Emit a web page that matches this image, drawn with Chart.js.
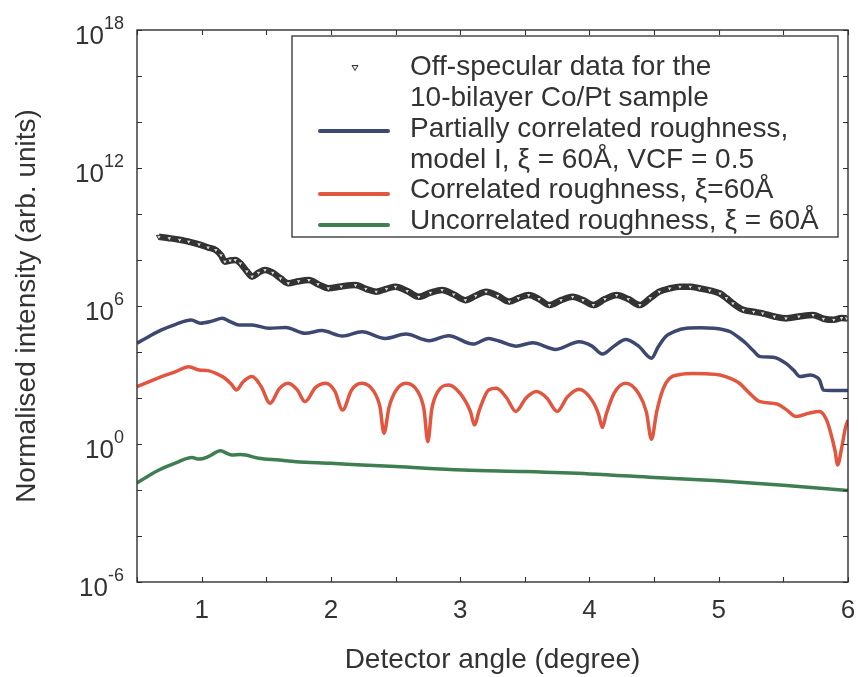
<!DOCTYPE html>
<html>
<head>
<meta charset="utf-8">
<script src="https://cdn.jsdelivr.net/npm/chart.js@4/dist/chart.umd.min.js"></script>
<style>
  html, body { margin: 0; padding: 0; background: #ffffff; }
  #wrap { width: 858px; height: 677px; }
</style>
</head>
<body>
<div id="wrap"><canvas id="c" width="858" height="677"></canvas></div>
<script>
// ---------------- DATA ----------------
const seriesLabels = [
  'Off-specular data for the\n10-bilayer Co/Pt sample',
  'Partially correlated roughness,\nmodel I, \u03BE = 60\u00C5, VCF = 0.5',
  'Correlated roughness, \u03BE=60\u00C5',
  'Uncorrelated roughness, \u03BE = 60\u00C5'
];

// Off-specular data (measured)
const offSpecX = [0.67,0.75,0.83,0.90,0.98,1.05,1.11,1.15,1.18,1.22,1.26,1.30,1.35,1.39,1.44,1.49,1.55,1.61,1.67,1.75,
  1.83,1.90,1.98,2.08,2.19,2.27,2.35,2.43,2.50,2.59,2.68,2.77,2.86,2.95,3.04,3.12,3.20,3.29,3.38,3.45,
  3.53,3.61,3.69,3.78,3.87,3.95,4.03,4.12,4.21,4.30,4.39,4.47,4.54,4.62,4.70,4.78,4.85,4.93,5.01,5.06,
  5.11,5.19,5.27,5.34,5.43,5.52,5.62,5.73,5.81,5.89,5.95,5.99];
const offSpecY = [1.02e9,8.9e8,7.6e8,6.3e8,4.8e8,3.5e8,2.7e8,1.6e8,8.5e7,9.5e7,1.0e8,7.1e7,3.2e7,1.9e7,2.8e7,3.7e7,2.8e7,1.6e7,9.8e6,1.2e7,
  1.35e7,8.9e6,5.9e6,7.1e6,8.1e6,5.6e6,4.2e6,5.6e6,6.9e6,4.5e6,2.5e6,3.8e6,5.0e6,3.2e6,1.8e6,2.8e6,4.2e6,2.8e6,1.55e6,2.2e6,
  3.0e6,2.0e6,1.1e6,1.8e6,2.5e6,1.8e6,1.1e6,2.0e6,3.0e6,2.0e6,1.1e6,2.2e6,4.2e6,5.8e6,6.9e6,6.9e6,5.9e6,4.8e6,3.5e6,2.2e6,
  1.3e6,6.8e5,5.6e5,4.8e5,3.5e5,2.9e5,3.5e5,4.1e5,2.8e5,2.5e5,3.0e5,2.9e5];

// Partially correlated roughness, model I
const partialX = [0.50,0.60,0.69,0.80,0.92,0.99,1.08,1.16,1.22,1.29,1.39,1.52,1.65,1.80,1.93,2.09,2.24,2.42,2.58,2.76,
  2.91,3.10,3.22,3.30,3.43,3.56,3.74,3.92,4.02,4.10,4.19,4.28,4.38,4.48,4.53,4.59,4.66,4.75,4.86,4.96,
  5.03,5.09,5.15,5.21,5.27,5.32,5.42,5.52,5.58,5.63,5.71,5.76,5.78,5.81,5.90,6.00];
const partialY = [2.4e4,5.0e4,9.1e4,1.6e5,2.45e5,1.8e5,2.2e5,2.9e5,2.1e5,1.5e5,1.5e5,1.07e5,1.17e5,6.5e4,8.5e4,5.0e4,7.6e4,3.9e4,6.0e4,3.1e4,
  5.1e4,2.2e4,3.9e4,3.0e4,1.8e4,2.5e4,1.3e4,2.8e4,1.8e4,8.1e3,1.8e4,3.5e4,1.8e4,5.4e3,1.6e4,4.7e4,7.9e4,1.07e5,1.12e5,1.07e5,
  9.5e4,7.6e4,4.5e4,2.4e4,1.1e4,6.3e3,5.9e3,3.2e3,1.6e3,8.5e2,1.0e3,7.9e2,6.0e2,2.2e2,2.1e2,2.1e2];

// Correlated roughness
const corrX = [0.50,0.60,0.69,0.80,0.90,0.98,1.05,1.12,1.18,1.23,1.27,1.32,1.39,1.46,1.53,1.60,1.67,1.74,1.80,1.88,
  1.96,2.03,2.09,2.16,2.24,2.33,2.38,2.41,2.45,2.50,2.58,2.67,2.72,2.75,2.78,2.83,2.91,3.00,3.08,3.11,
  3.15,3.22,3.28,3.36,3.43,3.51,3.59,3.67,3.75,3.83,3.92,4.02,4.07,4.10,4.13,4.19,4.28,4.38,4.44,4.48,
  4.52,4.57,4.62,4.70,4.80,4.90,5.01,5.09,5.16,5.24,5.32,5.45,5.52,5.60,5.70,5.78,5.83,5.86,5.90,5.92,
  5.95,5.98,6.00];
const corrY = [310,525,850,1.4e3,2.3e3,1.66e3,1.55e3,1.12e3,720,400,224,500,850,316,59,251,437,224,69,282,
  437,200,30,224,437,200,40,2.95,40,200,437,200,32,1.26,32,200,372,158,25,6.8,
  32,224,263,100,26,100,190,100,26,112,240,79,20,5.2,20,158,437,158,25,1.6,
  25,251,720,1.05e3,1.17e3,1.12e3,1.0e3,708,437,158,69,55,32,15.5,22,26,12.6,4.1,0.5,0.123,
  0.63,5.0,11];

// Uncorrelated roughness
const uncorrX = [0.50,0.60,0.67,0.80,0.925,0.98,1.05,1.145,1.20,1.235,1.30,1.34,1.44,1.60,1.73,2.00,2.24,2.50,3.02,3.50,
  4.00,4.50,5.00,5.50,6.00];
const uncorrY = [0.020,0.045,0.074,0.15,0.26,0.22,0.28,0.51,0.38,0.33,0.35,0.33,0.24,0.20,0.17,0.145,0.123,0.105,0.074,0.063,
  0.050,0.035,0.025,0.016,0.0095];

// Axis ticks
const xTickLabels = [1, 2, 3, 4, 5, 6];
const xMinorTicks = [0.5, 1, 1.5, 2, 2.5, 3, 3.5, 4, 4.5, 5, 5.5, 6];
const yTickExponents = [-6, 0, 6, 12, 18];
const yMinorTicks = [1e-6, 1e-4, 1e-2, 1e0, 1e2, 1e4, 1e6, 1e8, 1e10, 1e12, 1e14, 1e16, 1e18];
const xTitle = 'Detector angle (degree)';
const yTitle = 'Normalised intensity (arb. units)';

// ---------------- STYLE ----------------
const colors = ['#333333', '#3d4870', '#e2553f', '#3f7d52'];
const FONT = '"Liberation Sans", Arial, Helvetica, sans-serif';
const TEXT = '#333333';

const pts = (xs, ys) => xs.map((x, i) => ({ x: x, y: ys[i] }));

const decorPlugin = {
  id: 'decor',
  afterDraw(chart) {
    const ctx = chart.ctx;
    const a = chart.chartArea;
    const xs = chart.scales.x, ys = chart.scales.y;
    ctx.save();
    // frame
    ctx.strokeStyle = '#303030';
    ctx.lineWidth = 1.4;
    ctx.strokeRect(a.left, a.top, a.right - a.left, a.bottom - a.top);
    // inward ticks
    ctx.lineWidth = 1.1;
    const TL = 5;
    ctx.beginPath();
    xMinorTicks.forEach(v => {
      const px = Math.round(xs.getPixelForValue(v)) + 0.5;
      ctx.moveTo(px, a.bottom); ctx.lineTo(px, a.bottom - TL);
      ctx.moveTo(px, a.top); ctx.lineTo(px, a.top + TL);
    });
    yMinorTicks.forEach(v => {
      const py = Math.round(ys.getPixelForValue(v)) + 0.5;
      ctx.moveTo(a.left, py); ctx.lineTo(a.left + TL, py);
      ctx.moveTo(a.right, py); ctx.lineTo(a.right - TL, py);
    });
    ctx.stroke();

    ctx.fillStyle = TEXT;
    // y tick labels 10^n
    yTickExponents.forEach(e => {
      const py = ys.getPixelForValue(Math.pow(10, e));
      const rightX = 124;
      ctx.font = '18px ' + FONT;
      const expTxt = String(e);
      const ew = ctx.measureText(expTxt).width;
      ctx.textAlign = 'left';
      ctx.textBaseline = 'alphabetic';
      ctx.fillText(expTxt, rightX - ew, py - 1);
      ctx.font = '26px ' + FONT;
      ctx.textAlign = 'right';
      ctx.fillText('10', rightX - ew, py + 14);
    });
    // x tick labels
    ctx.font = '26px ' + FONT;
    ctx.textAlign = 'center';
    xTickLabels.forEach(v => {
      ctx.fillText(String(v), xs.getPixelForValue(v), 618);
    });
    // x title
    ctx.font = '28px ' + FONT;
    ctx.fillText(xTitle, (a.left + a.right) / 2, 668);
    // y title
    ctx.save();
    ctx.translate(35, (a.top + a.bottom) / 2);
    ctx.rotate(-Math.PI / 2);
    ctx.textAlign = 'center';
    ctx.fillText(yTitle, 0, 0);
    ctx.restore();

    // legend
    const L = { left: 292, top: 36, right: 838, bottom: 237 };
    ctx.fillStyle = '#ffffff';
    ctx.fillRect(L.left, L.top, L.right - L.left, L.bottom - L.top);
    ctx.strokeStyle = '#303030';
    ctx.lineWidth = 1.3;
    ctx.strokeRect(L.left, L.top, L.right - L.left, L.bottom - L.top);
    const lines = [];
    seriesLabels.forEach(s => s.split('\n').forEach(t => lines.push(t)));
    const baselines = [75, 106, 137, 168, 198, 229];
    ctx.fillStyle = TEXT;
    ctx.font = '28px ' + FONT;
    ctx.textAlign = 'left';
    lines.forEach((t, i) => ctx.fillText(t, 410, baselines[i]));
    // sample marker for data (downward triangle)
    ctx.beginPath();
    ctx.moveTo(352, 65.5); ctx.lineTo(358, 65.5); ctx.lineTo(355, 70.5); ctx.closePath();
    ctx.fillStyle = '#e8e8e8';
    ctx.fill();
    ctx.strokeStyle = colors[0];
    ctx.lineWidth = 1;
    ctx.stroke();
    // sample lines
    const sampleY = [null, 131, 194, 225];
    ctx.lineWidth = 4;
    ctx.lineCap = 'round';
    [1, 2, 3].forEach(i => {
      ctx.strokeStyle = colors[i];
      ctx.beginPath();
      ctx.moveTo(320, sampleY[i]); ctx.lineTo(388, sampleY[i]);
      ctx.stroke();
    });
    ctx.restore();
  }
};

new Chart(document.getElementById('c'), {
  type: 'line',
  data: {
    datasets: [
      {
        label: seriesLabels[0],
        data: pts(offSpecX, offSpecY),
        borderColor: colors[0],
        borderWidth: 6.5,
        pointStyle: 'triangle',
        rotation: 180,
        pointRadius: 3,
        pointBorderWidth: 1,
        pointBorderColor: '#2a2a2a',
        pointBackgroundColor: '#d8d8d8',
        cubicInterpolationMode: 'monotone'
      },
      {
        label: seriesLabels[1],
        data: pts(partialX, partialY),
        borderColor: colors[1],
        borderWidth: 3.5,
        pointRadius: 0,
        cubicInterpolationMode: 'monotone'
      },
      {
        label: seriesLabels[2],
        data: pts(corrX, corrY),
        borderColor: colors[2],
        borderWidth: 3.5,
        pointRadius: 0,
        cubicInterpolationMode: 'monotone'
      },
      {
        label: seriesLabels[3],
        data: pts(uncorrX, uncorrY),
        borderColor: colors[3],
        borderWidth: 3.5,
        pointRadius: 0,
        cubicInterpolationMode: 'monotone'
      }
    ]
  },
  options: {
    responsive: false,
    animation: false,
    devicePixelRatio: 1,
    layout: { padding: { left: 0, right: 10, top: 30, bottom: 0 } },
    plugins: { legend: { display: false }, tooltip: { enabled: false } },
    scales: {
      x: {
        type: 'linear', min: 0.5, max: 6,
        ticks: { display: false },
        grid: { display: false },
        border: { display: false },
        afterFit: s => { s.height = 95; }
      },
      y: {
        type: 'logarithmic', min: 1e-6, max: 1e18,
        ticks: { display: false },
        grid: { display: false },
        border: { display: false },
        afterFit: s => { s.width = 137; }
      }
    }
  },
  plugins: [decorPlugin]
});
</script>
</body>
</html>
